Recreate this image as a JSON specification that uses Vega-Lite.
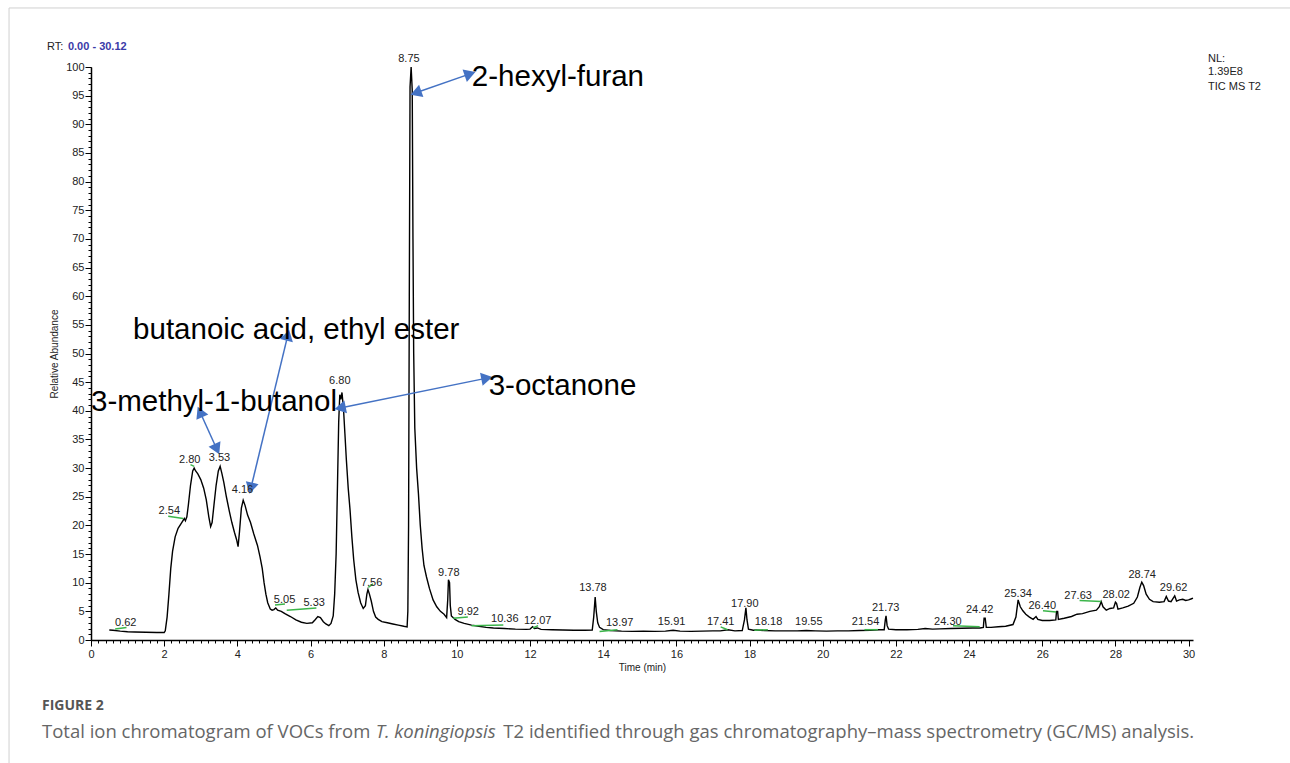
{
  "$schema": "https://vega.github.io/schema/vega-lite/v6.json",
  "width": 1102,
  "height": 573,
  "autosize": {"type": "none"},
  "padding": {"left": 91, "top": 67, "right": 97, "bottom": 123},
  "background": "white",
  "config": {
    "view": {"stroke": null},
    "axis": {"domainColor": "#000", "tickColor": "#000", "labelColor": "#222", "labelFont": "Liberation Sans", "labelFontSize": 11, "titleFont": "Liberation Sans", "titleFontWeight": "normal", "titleFontSize": 10, "titleColor": "#222", "grid": false, "labelFlush": false}
  },
  "resolve": {"axis": {"x": "independent", "y": "independent"}},
  "datasets": {
    "trace": [
      {"t":0.5,"v":1.75},{"t":0.6,"v":1.7},{"t":0.8,"v":1.55},{"t":1.0,"v":1.45},{"t":1.2,"v":1.4},{"t":1.5,"v":1.35},{"t":1.8,"v":1.3},{"t":2.0,"v":1.3},
      {"t":2.03,"v":1.6},{"t":2.08,"v":4},{"t":2.13,"v":8},{"t":2.18,"v":12.5},{"t":2.23,"v":15.5},{"t":2.3,"v":18},{"t":2.38,"v":19.5},{"t":2.48,"v":20.5},{"t":2.55,"v":21.2},{"t":2.58,"v":20.8},{"t":2.62,"v":21.5},{"t":2.66,"v":23.5},{"t":2.72,"v":27},{"t":2.78,"v":29.5},{"t":2.82,"v":30},{"t":2.86,"v":29.5},{"t":2.92,"v":29},{"t":3.0,"v":28},{"t":3.08,"v":26.5},{"t":3.15,"v":24.5},{"t":3.22,"v":21.5},{"t":3.27,"v":19.8},{"t":3.31,"v":20.5},{"t":3.36,"v":23.5},{"t":3.42,"v":27},{"t":3.48,"v":29.5},{"t":3.53,"v":30.3},{"t":3.58,"v":29},{"t":3.63,"v":27.5},{"t":3.7,"v":25},{"t":3.78,"v":22.5},{"t":3.85,"v":20.5},{"t":3.92,"v":18.8},{"t":3.98,"v":17.5},{"t":4.02,"v":16.3},{"t":4.06,"v":19},{"t":4.11,"v":23},{"t":4.16,"v":24.4},{"t":4.21,"v":23.5},{"t":4.28,"v":21.8},{"t":4.36,"v":20.5},{"t":4.45,"v":18.5},{"t":4.55,"v":16.5},{"t":4.62,"v":14.5},{"t":4.68,"v":12.5},{"t":4.73,"v":10},{"t":4.78,"v":8},{"t":4.83,"v":6.5},{"t":4.9,"v":5.4},{"t":4.95,"v":5.2},{"t":5.0,"v":5.3},{"t":5.05,"v":5.6},{"t":5.1,"v":5.2},{"t":5.2,"v":5.0},{"t":5.3,"v":4.6},{"t":5.45,"v":4.1},{"t":5.6,"v":3.5},{"t":5.75,"v":3.1},{"t":5.9,"v":2.9},{"t":6.05,"v":3.0},{"t":6.12,"v":3.5},{"t":6.2,"v":4.1},{"t":6.27,"v":3.9},{"t":6.35,"v":3.2},{"t":6.42,"v":2.8},{"t":6.5,"v":2.5},{"t":6.56,"v":2.9},{"t":6.62,"v":4.2},{"t":6.66,"v":8},{"t":6.7,"v":15},{"t":6.74,"v":28},{"t":6.77,"v":38},{"t":6.8,"v":42.8},{"t":6.83,"v":42},{"t":6.86,"v":43.2},{"t":6.9,"v":40.5},{"t":6.94,"v":36},{"t":6.98,"v":31.4},{"t":7.03,"v":26.5},{"t":7.08,"v":22.7},{"t":7.13,"v":18},{"t":7.18,"v":14},{"t":7.24,"v":10.5},{"t":7.3,"v":8.3},{"t":7.37,"v":6.5},{"t":7.44,"v":5.5},{"t":7.5,"v":6},{"t":7.54,"v":8},{"t":7.57,"v":8.8},{"t":7.61,"v":8},{"t":7.66,"v":6.8},{"t":7.72,"v":5},{"t":7.78,"v":4},{"t":7.85,"v":3.6},{"t":7.95,"v":3.2},{"t":8.1,"v":3.0},{"t":8.25,"v":2.8},{"t":8.4,"v":2.6},{"t":8.55,"v":2.4},{"t":8.64,"v":2.3},{"t":8.66,"v":5},{"t":8.68,"v":20},{"t":8.7,"v":60},{"t":8.72,"v":96.5},{"t":8.75,"v":100},{"t":8.78,"v":96},{"t":8.8,"v":70},{"t":8.82,"v":50},{"t":8.85,"v":37},{"t":8.9,"v":30},{"t":8.95,"v":25.5},{"t":9.0,"v":20},{"t":9.05,"v":16},{"t":9.1,"v":13},{"t":9.17,"v":11},{"t":9.25,"v":9},{"t":9.35,"v":7},{"t":9.45,"v":5.8},{"t":9.55,"v":5},{"t":9.65,"v":4.5},{"t":9.72,"v":3.9},{"t":9.75,"v":7},{"t":9.77,"v":10.5},{"t":9.8,"v":10},{"t":9.82,"v":6},{"t":9.85,"v":4.2},{"t":9.95,"v":3.6},{"t":10.05,"v":3.2},{"t":10.2,"v":2.9},{"t":10.4,"v":2.6},{"t":10.6,"v":2.4},{"t":10.8,"v":2.2},{"t":11.0,"v":2.1},{"t":11.3,"v":2.0},{"t":11.6,"v":1.9},{"t":11.9,"v":1.85},{"t":12.0,"v":1.9},{"t":12.07,"v":2.3},{"t":12.12,"v":2.0},{"t":12.2,"v":2.1},{"t":12.3,"v":1.85},{"t":12.6,"v":1.8},{"t":12.9,"v":1.75},{"t":13.2,"v":1.7},{"t":13.5,"v":1.7},{"t":13.7,"v":1.75},{"t":13.74,"v":4},{"t":13.78,"v":7.5},{"t":13.81,"v":5},{"t":13.85,"v":3},{"t":13.9,"v":2.2},{"t":14.0,"v":1.8},{"t":14.2,"v":1.65},{"t":14.5,"v":1.55},{"t":14.8,"v":1.5},{"t":15.1,"v":1.55},{"t":15.4,"v":1.5},{"t":15.7,"v":1.55},{"t":15.91,"v":1.7},{"t":16.1,"v":1.55},{"t":16.4,"v":1.5},{"t":16.7,"v":1.55},{"t":17.0,"v":1.6},{"t":17.2,"v":1.6},{"t":17.41,"v":1.8},{"t":17.6,"v":1.6},{"t":17.8,"v":1.65},{"t":17.86,"v":3.5},{"t":17.9,"v":5.6},{"t":17.93,"v":3.5},{"t":17.97,"v":1.9},{"t":18.1,"v":1.7},{"t":18.18,"v":1.75},{"t":18.4,"v":1.65},{"t":18.7,"v":1.6},{"t":19.0,"v":1.6},{"t":19.3,"v":1.6},{"t":19.55,"v":1.65},{"t":19.8,"v":1.6},{"t":20.1,"v":1.55},{"t":20.4,"v":1.6},{"t":20.7,"v":1.6},{"t":21.0,"v":1.65},{"t":21.3,"v":1.7},{"t":21.54,"v":1.8},{"t":21.68,"v":1.8},{"t":21.71,"v":3.5},{"t":21.73,"v":4.2},{"t":21.76,"v":2.5},{"t":21.8,"v":1.9},{"t":22.0,"v":1.8},{"t":22.3,"v":1.8},{"t":22.6,"v":1.85},{"t":22.8,"v":2.0},{"t":23.0,"v":1.9},{"t":23.2,"v":1.95},{"t":23.5,"v":2.0},{"t":23.8,"v":2.05},{"t":24.1,"v":2.1},{"t":24.3,"v":2.1},{"t":24.39,"v":2.2},{"t":24.41,"v":3.8},{"t":24.44,"v":3.8},{"t":24.47,"v":2.2},{"t":24.6,"v":2.2},{"t":24.8,"v":2.3},{"t":25.0,"v":2.4},{"t":25.2,"v":2.7},{"t":25.28,"v":4},{"t":25.34,"v":7.0},{"t":25.4,"v":5.8},{"t":25.47,"v":5.1},{"t":25.55,"v":4.5},{"t":25.65,"v":4.0},{"t":25.75,"v":3.6},{"t":25.83,"v":4.1},{"t":25.88,"v":3.6},{"t":26.0,"v":3.4},{"t":26.2,"v":3.4},{"t":26.37,"v":3.5},{"t":26.39,"v":5.0},{"t":26.42,"v":5.0},{"t":26.44,"v":3.6},{"t":26.6,"v":3.8},{"t":26.8,"v":4.1},{"t":26.95,"v":4.5},{"t":27.1,"v":4.6},{"t":27.3,"v":5.0},{"t":27.48,"v":5.2},{"t":27.56,"v":5.8},{"t":27.61,"v":6.7},{"t":27.66,"v":5.8},{"t":27.75,"v":5.2},{"t":27.85,"v":5.5},{"t":27.95,"v":5.6},{"t":28.0,"v":6.6},{"t":28.03,"v":6.4},{"t":28.07,"v":5.4},{"t":28.2,"v":5.6},{"t":28.35,"v":5.9},{"t":28.5,"v":6.4},{"t":28.6,"v":7.5},{"t":28.67,"v":9.2},{"t":28.72,"v":10.1},{"t":28.77,"v":9.5},{"t":28.84,"v":8.0},{"t":28.93,"v":7.1},{"t":29.03,"v":6.7},{"t":29.2,"v":6.6},{"t":29.33,"v":6.7},{"t":29.39,"v":7.6},{"t":29.45,"v":6.8},{"t":29.52,"v":6.7},{"t":29.58,"v":7.3},{"t":29.62,"v":7.7},{"t":29.67,"v":6.8},{"t":29.75,"v":7.0},{"t":29.84,"v":7.1},{"t":29.92,"v":6.9},{"t":30.0,"v":7.0},{"t":30.08,"v":7.2},{"t":30.12,"v":7.3}
    ],
    "green": [
      {"t":0.66,"v":1.9,"t2":0.97,"v2":2.2},{"t":2.11,"v":21.6,"t2":2.52,"v2":21.2},{"t":2.72,"v":30.6,"t2":2.82,"v2":30.3},{"t":5.03,"v":6.1,"t2":5.3,"v2":6.3},{"t":5.35,"v":5.2,"t2":6.16,"v2":5.6},{"t":7.58,"v":9.2,"t2":7.71,"v2":9.8},{"t":9.9,"v":3.8,"t2":10.3,"v2":4.0},{"t":10.4,"v":2.5,"t2":11.27,"v2":2.6},{"t":12.08,"v":2.1,"t2":12.22,"v2":2.5},{"t":13.9,"v":1.5,"t2":14.39,"v2":1.8},{"t":17.21,"v":2.3,"t2":17.4,"v2":1.8},{"t":18.13,"v":1.7,"t2":18.5,"v2":1.8},{"t":21.14,"v":1.8,"t2":21.51,"v2":1.8},{"t":23.56,"v":2.5,"t2":24.29,"v2":2.3},{"t":26.02,"v":5.1,"t2":26.38,"v2":4.9},{"t":27.02,"v":6.9,"t2":27.61,"v2":6.7}
    ],
    "arrows": [
      {"x1":8.88,"y1":95.5,"x2":10.36,"y2":98.8},
      {"x1":6.81,"y1":40.5,"x2":10.82,"y2":45.7},
      {"x1":2.98,"y1":39.8,"x2":3.44,"y2":33.3},
      {"x1":5.38,"y1":53.2,"x2":4.37,"y2":26.5}
    ],
    "borders": [
      {"x1":-2.24,"y1":110.3,"x2":32.8,"y2":110.3},
      {"x1":-2.24,"y1":110.3,"x2":-2.24,"y2":-21.6}
    ],
    "texts": [
      {"kind":"peak","t":0.95,"v":3.0,"text":"0.62"},
      {"kind":"peak","t":2.14,"v":22.6,"text":"2.54"},
      {"kind":"peak","t":2.7,"v":31.4,"text":"2.80"},
      {"kind":"peak","t":3.51,"v":31.7,"text":"3.53"},
      {"kind":"peak","t":4.14,"v":26.1,"text":"4.16"},
      {"kind":"peak","t":5.29,"v":7.0,"text":"5.05"},
      {"kind":"peak","t":6.1,"v":6.5,"text":"5.33"},
      {"kind":"peak","t":6.8,"v":45.2,"text":"6.80"},
      {"kind":"peak","t":7.67,"v":10.0,"text":"7.56"},
      {"kind":"peak","t":8.69,"v":101.4,"text":"8.75"},
      {"kind":"peak","t":9.78,"v":11.7,"text":"9.78"},
      {"kind":"peak","t":10.31,"v":4.8,"text":"9.92"},
      {"kind":"peak","t":11.31,"v":3.7,"text":"10.36"},
      {"kind":"peak","t":12.21,"v":3.3,"text":"12.07"},
      {"kind":"peak","t":13.72,"v":9.1,"text":"13.78"},
      {"kind":"peak","t":14.45,"v":3.0,"text":"13.97"},
      {"kind":"peak","t":15.87,"v":3.1,"text":"15.91"},
      {"kind":"peak","t":17.21,"v":3.1,"text":"17.41"},
      {"kind":"peak","t":17.87,"v":6.3,"text":"17.90"},
      {"kind":"peak","t":18.52,"v":3.1,"text":"18.18"},
      {"kind":"peak","t":19.62,"v":3.1,"text":"19.55"},
      {"kind":"peak","t":21.17,"v":3.1,"text":"21.54"},
      {"kind":"peak","t":21.72,"v":5.6,"text":"21.73"},
      {"kind":"peak","t":23.42,"v":3.2,"text":"24.30"},
      {"kind":"peak","t":24.29,"v":5.2,"text":"24.42"},
      {"kind":"peak","t":25.34,"v":8.1,"text":"25.34"},
      {"kind":"peak","t":26.0,"v":5.9,"text":"26.40"},
      {"kind":"peak","t":26.98,"v":7.7,"text":"27.63"},
      {"kind":"peak","t":28.02,"v":7.9,"text":"28.02"},
      {"kind":"peak","t":28.73,"v":11.3,"text":"28.74"},
      {"kind":"peak","t":29.59,"v":9.0,"text":"29.62"},
      {"kind":"ann","t":10.41,"v":98.3,"text":"2-hexyl-furan"},
      {"kind":"ann","t":1.15,"v":54.1,"text":"butanoic acid, ethyl ester"},
      {"kind":"ann","t":0.0,"v":41.5,"text":"3-methyl-1-butanol"},
      {"kind":"ann","t":10.87,"v":44.3,"text":"3-octanone"},
      {"kind":"meta","t":-1.2,"v":103.5,"text":"RT:"},
      {"kind":"metablue","t":-0.63,"v":103.5,"text":"0.00 - 30.12"},
      {"kind":"meta","t":30.53,"v":101.4,"text":"NL:"},
      {"kind":"meta","t":30.53,"v":99.1,"text":"1.39E8"},
      {"kind":"meta","t":30.53,"v":96.5,"text":"TIC MS T2"},
      {"kind":"fig","t":-1.34,"v":-11.6,"text":"FIGURE 2"},
      {"kind":"cap","t":-1.34,"v":-16.0,"text":"Total ion chromatogram of VOCs from"},
      {"kind":"capit","t":7.78,"v":-16.0,"text":"T. koningiopsis"},
      {"kind":"cap","t":11.27,"v":-16.0,"text":"T2 identified through gas chromatography–mass spectrometry (GC/MS) analysis."}
    ]
  },
  "layer": [
    {
      "data": {"name": "trace"},
      "mark": {"type": "line", "color": "#000", "strokeWidth": 1.4, "interpolate": "linear"},
      "encoding": {
        "x": {"field": "t", "type": "quantitative", "scale": {"domain": [0, 30.12], "nice": false}, "title": "Time (min)",
          "axis": {"values": [0,2,4,6,8,10,12,14,16,18,20,22,24,26,28,30], "format": "d", "tickSize": 6, "tickWidth": 1, "labelPadding": 2, "titlePadding": 3, "domainWidth": 1.5, "labelOverlap": false, "orient": "bottom"}
        },
        "y": {"field": "v", "type": "quantitative", "scale": {"domain": [0, 100], "nice": false}, "title": "Relative Abundance",
          "axis": {"values": [0,5,10,15,20,25,30,35,40,45,50,55,60,65,70,75,80,85,90,95,100], "format": "d", "tickSize": 6, "tickWidth": 1, "labelPadding": 1, "titlePadding": 6, "domainWidth": 1.5, "labelOverlap": false, "orient": "left"}
        }
      }
    },
    {
      "data": {"name": "borders"},
      "mark": {"type": "rule", "color": "#d0d0d0", "strokeWidth": 1},
      "encoding": {
        "x": {"field": "x1", "type": "quantitative", "scale": {"domain": [0, 30.12], "nice": false},
          "axis": {"orient": "bottom", "title": null, "labels": false, "domain": false, "tickSize": 3, "tickWidth": 1,
            "values": [0,0.2,0.4,0.6,0.8,1,1.2,1.4,1.6,1.8,2,2.2,2.4,2.6,2.8,3,3.2,3.4,3.6,3.8,4,4.2,4.4,4.6,4.8,5,5.2,5.4,5.6,5.8,6,6.2,6.4,6.6,6.8,7,7.2,7.4,7.6,7.8,8,8.2,8.4,8.6,8.8,9,9.2,9.4,9.6,9.8,10,10.2,10.4,10.6,10.8,11,11.2,11.4,11.6,11.8,12,12.2,12.4,12.6,12.8,13,13.2,13.4,13.6,13.8,14,14.2,14.4,14.6,14.8,15,15.2,15.4,15.6,15.8,16,16.2,16.4,16.6,16.8,17,17.2,17.4,17.6,17.8,18,18.2,18.4,18.6,18.8,19,19.2,19.4,19.6,19.8,20,20.2,20.4,20.6,20.8,21,21.2,21.4,21.6,21.8,22,22.2,22.4,22.6,22.8,23,23.2,23.4,23.6,23.8,24,24.2,24.4,24.6,24.8,25,25.2,25.4,25.6,25.8,26,26.2,26.4,26.6,26.8,27,27.2,27.4,27.6,27.8,28,28.2,28.4,28.6,28.8,29,29.2,29.4,29.6,29.8,30]}},
        "y": {"field": "y1", "type": "quantitative", "scale": {"domain": [0, 100], "nice": false},
          "axis": {"orient": "left", "title": null, "labels": false, "domain": false, "tickSize": 3, "tickWidth": 1,
            "values": [0,1,2,3,4,5,6,7,8,9,10,11,12,13,14,15,16,17,18,19,20,21,22,23,24,25,26,27,28,29,30,31,32,33,34,35,36,37,38,39,40,41,42,43,44,45,46,47,48,49,50,51,52,53,54,55,56,57,58,59,60,61,62,63,64,65,66,67,68,69,70,71,72,73,74,75,76,77,78,79,80,81,82,83,84,85,86,87,88,89,90,91,92,93,94,95,96,97,98,99,100]}},
        "x2": {"field": "x2"},
        "y2": {"field": "y2"}
      }
    },
    {
      "data": {"name": "green"},
      "mark": {"type": "rule", "color": "#3bb54a", "strokeWidth": 1.5},
      "encoding": {
        "x": {"field": "t", "type": "quantitative", "scale": {"domain": [0, 30.12], "nice": false}, "axis": null},
        "y": {"field": "v", "type": "quantitative", "scale": {"domain": [0, 100], "nice": false}, "axis": null},
        "x2": {"field": "t2"},
        "y2": {"field": "v2"}
      }
    },
    {
      "data": {"name": "arrows"},
      "mark": {"type": "rule", "color": "#4472c4", "strokeWidth": 1.5},
      "encoding": {
        "x": {"field": "x1", "type": "quantitative", "scale": {"domain": [0, 30.12], "nice": false}, "axis": null},
        "y": {"field": "y1", "type": "quantitative", "scale": {"domain": [0, 100], "nice": false}, "axis": null},
        "x2": {"field": "x2"},
        "y2": {"field": "y2"}
      }
    },
    {
      "data": {"name": "arrows"},
      "transform": [{"calculate": "atan2(-(datum.y2 - datum.y1) * 5.73, (datum.x2 - datum.x1) * 36.587) * 180 / PI", "as": "ang"}],
      "mark": {"type": "point", "shape": "triangle-right", "filled": true, "color": "#4472c4", "opacity": 1, "size": 170},
      "encoding": {
        "x": {"field": "x2", "type": "quantitative", "scale": {"domain": [0, 30.12], "nice": false}, "axis": null},
        "y": {"field": "y2", "type": "quantitative", "scale": {"domain": [0, 100], "nice": false}, "axis": null},
        "angle": {"field": "ang", "type": "quantitative", "scale": null}
      }
    },
    {
      "data": {"name": "arrows"},
      "transform": [{"calculate": "atan2(-(datum.y1 - datum.y2) * 5.73, (datum.x1 - datum.x2) * 36.587) * 180 / PI", "as": "ang"}],
      "mark": {"type": "point", "shape": "triangle-right", "filled": true, "color": "#4472c4", "opacity": 1, "size": 170},
      "encoding": {
        "x": {"field": "x1", "type": "quantitative", "scale": {"domain": [0, 30.12], "nice": false}, "axis": null},
        "y": {"field": "y1", "type": "quantitative", "scale": {"domain": [0, 100], "nice": false}, "axis": null},
        "angle": {"field": "ang", "type": "quantitative", "scale": null}
      }
    },
    {
      "data": {"name": "texts"},
      "transform": [{"filter": "datum.kind === 'peak'"}],
      "mark": {"type": "text", "font": "Liberation Sans", "fontSize": 11, "color": "#222", "align": "center", "baseline": "middle"},
      "encoding": {
        "x": {"field": "t", "type": "quantitative", "scale": {"domain": [0, 30.12], "nice": false}, "axis": null},
        "y": {"field": "v", "type": "quantitative", "scale": {"domain": [0, 100], "nice": false}, "axis": null},
        "text": {"field": "text"}
      }
    },
    {
      "data": {"name": "texts"},
      "transform": [{"filter": "datum.kind === 'ann'"}],
      "mark": {"type": "text", "font": "Liberation Sans", "fontSize": 29.5, "color": "#000", "align": "left", "baseline": "middle"},
      "encoding": {
        "x": {"field": "t", "type": "quantitative", "scale": {"domain": [0, 30.12], "nice": false}, "axis": null},
        "y": {"field": "v", "type": "quantitative", "scale": {"domain": [0, 100], "nice": false}, "axis": null},
        "text": {"field": "text"}
      }
    },
    {
      "data": {"name": "texts"},
      "transform": [{"filter": "datum.kind === 'meta'"}],
      "mark": {"type": "text", "font": "Liberation Sans", "fontSize": 11, "color": "#222", "align": "left", "baseline": "middle"},
      "encoding": {
        "x": {"field": "t", "type": "quantitative", "scale": {"domain": [0, 30.12], "nice": false}, "axis": null},
        "y": {"field": "v", "type": "quantitative", "scale": {"domain": [0, 100], "nice": false}, "axis": null},
        "text": {"field": "text"}
      }
    },
    {
      "data": {"name": "texts"},
      "transform": [{"filter": "datum.kind === 'metablue'"}],
      "mark": {"type": "text", "font": "Liberation Sans", "fontSize": 11, "fontWeight": "bold", "color": "#3a3aa8", "align": "left", "baseline": "middle"},
      "encoding": {
        "x": {"field": "t", "type": "quantitative", "scale": {"domain": [0, 30.12], "nice": false}, "axis": null},
        "y": {"field": "v", "type": "quantitative", "scale": {"domain": [0, 100], "nice": false}, "axis": null},
        "text": {"field": "text"}
      }
    },
    {
      "data": {"name": "texts"},
      "transform": [{"filter": "datum.kind === 'fig'"}],
      "mark": {"type": "text", "font": "Open Sans", "fontSize": 14, "fontWeight": "bold", "color": "#555", "align": "left", "baseline": "middle"},
      "encoding": {
        "x": {"field": "t", "type": "quantitative", "scale": {"domain": [0, 30.12], "nice": false}, "axis": null},
        "y": {"field": "v", "type": "quantitative", "scale": {"domain": [0, 100], "nice": false}, "axis": null},
        "text": {"field": "text"}
      }
    },
    {
      "data": {"name": "texts"},
      "transform": [{"filter": "datum.kind === 'cap'"}],
      "mark": {"type": "text", "font": "Open Sans", "fontSize": 18.5, "color": "#666", "align": "left", "baseline": "middle"},
      "encoding": {
        "x": {"field": "t", "type": "quantitative", "scale": {"domain": [0, 30.12], "nice": false}, "axis": null},
        "y": {"field": "v", "type": "quantitative", "scale": {"domain": [0, 100], "nice": false}, "axis": null},
        "text": {"field": "text"}
      }
    },
    {
      "data": {"name": "texts"},
      "transform": [{"filter": "datum.kind === 'capit'"}],
      "mark": {"type": "text", "font": "Open Sans", "fontSize": 18.5, "fontStyle": "italic", "color": "#666", "align": "left", "baseline": "middle"},
      "encoding": {
        "x": {"field": "t", "type": "quantitative", "scale": {"domain": [0, 30.12], "nice": false}, "axis": null},
        "y": {"field": "v", "type": "quantitative", "scale": {"domain": [0, 100], "nice": false}, "axis": null},
        "text": {"field": "text"}
      }
    }
  ]
}
